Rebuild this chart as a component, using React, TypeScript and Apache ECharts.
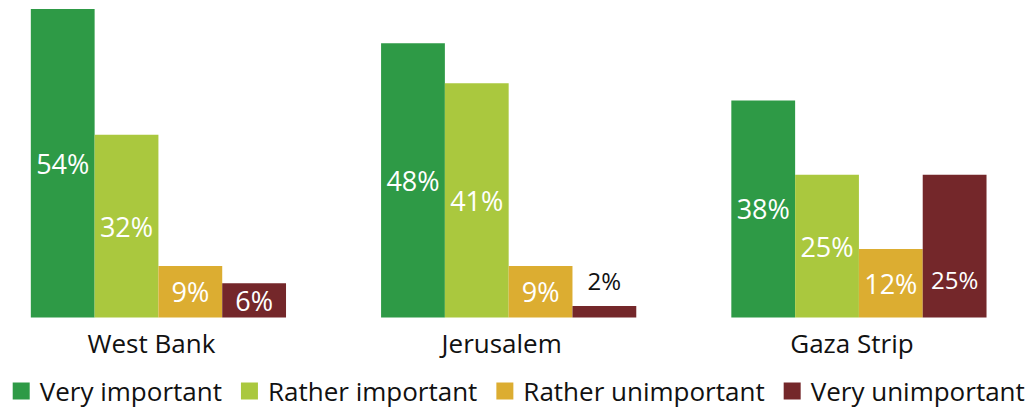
import React, { useEffect, useRef } from "react";
import * as echarts from "echarts";

const categories = ["West Bank", "Jerusalem", "Gaza Strip"];
const seriesNames = ["Very important", "Rather important", "Rather unimportant", "Very unimportant"];
const veryImportant = [54, 48, 38];
const ratherImportant = [32, 41, 25];
const ratherUnimportant = [9, 9, 12];
const veryUnimportant = [6, 2, 25];
const colors = ["#2e9a46", "#aac83e", "#dcad31", "#74272a"];

const FONT = "'Open Sans', sans-serif";
const SHIFT = 17;

export default function App() {
  const ref = useRef<HTMLDivElement>(null);
  useEffect(() => {
    if (!ref.current) return;
    const chart = echarts.init(ref.current, null, { renderer: "svg" });
    const allValues = [veryImportant, ratherImportant, ratherUnimportant, veryUnimportant];
    const series = allValues.map((vals, si) => ({
      name: seriesNames[si],
      type: "bar",
      barWidth: 63.8,
      barGap: "0%",
      itemStyle: { color: colors[si] },
      label: {
        show: true,
        position: "inside",
        color: "#ffffff",
        fontFamily: FONT,
        fontSize: 27,
        formatter: "{c}%",
      },
      data: vals.map((v, ci) => {
        if (v < 4) {
          return {
            value: v,
            label: { position: "top", color: "#111111", distance: 14, fontSize: 24 },
          };
        }
        if (si === 3 && ci === 2) {
          return { value: v, label: { offset: [0, 33], fontSize: 24 } };
        }
        return v;
      }),
    }));
    chart.setOption({
      animation: false,
      backgroundColor: "#ffffff",
      textStyle: { fontFamily: FONT },
      grid: { left: SHIFT - 16.7, width: 1050.75, top: 9, bottom: 94.5 },
      legend: {
        data: seriesNames,
        left: 12.7 + SHIFT,
        top: 378,
        padding: 0,
        icon: "rect",
        itemWidth: 17,
        itemHeight: 17,
        itemGap: 19,
        textStyle: { fontFamily: FONT, fontSize: 26, color: "#111111", padding: [0, 0, 0, 5] },
      },
      xAxis: {
        type: "category",
        data: categories,
        axisLine: { show: false },
        axisTick: { show: false },
        axisLabel: { color: "#111111", fontFamily: FONT, fontSize: 26, margin: 12, padding: [0, 14, 0, 0] },
      },
      yAxis: {
        type: "value",
        min: 0,
        max: 54,
        show: false,
        splitLine: { show: false },
      },
      series,
    });
    return () => chart.dispose();
  }, []);
  return (
    <div style={{ position: "absolute", left: 0, top: 0, width: 1032, height: 412, overflow: "hidden", background: "#fff" }}>
      <div ref={ref} style={{ position: "absolute", left: -SHIFT, top: 0, width: 1032 + SHIFT + 4, height: 412 }} />
    </div>
  );
}
